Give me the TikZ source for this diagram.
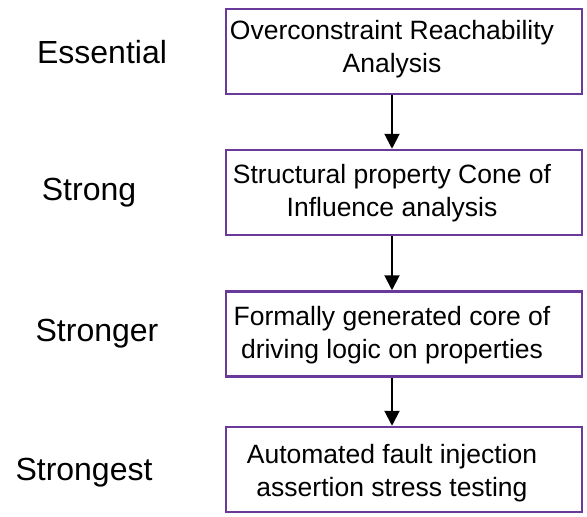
\documentclass[tikz,border=0pt]{standalone}
\usepackage{fontspec}
\setmainfont{Liberation Sans}
\usetikzlibrary{arrows.meta}
\definecolor{levelpurple}{HTML}{6A3A9A}
\begin{document}
\begin{tikzpicture}[x=1pt,y=-1pt]
\useasboundingbox (0,0) rectangle (587,517);
\begin{scope}
	\tikzstyle{levelbox}=[draw=levelpurple, line width=2.5pt, minimum width=356pt, minimum height=85pt, inner sep=0pt]
	\tikzstyle{boxtext}=[align=center, font=\fontsize{26.5}{33}\selectfont]
	\tikzstyle{levelname}=[font=\fontsize{32}{38}\selectfont]
	\node[levelbox] (b1) at (404, 51.5) {};
	\node[levelbox] (b2) at (404, 192.5) {};
	\node[levelbox] (b3) at (404, 334) {};
	\node[levelbox] (b4) at (404, 469.5) {};
	
	\node[boxtext] (t1) at (392, 49) {Overconstraint Reachability\\Analysis};
	\node[boxtext] (t2) at (392, 193) {Structural property Cone of\\Influence analysis};
	\node[boxtext] (t3) at (392, 335) {Formally generated core of\\driving logic on properties};
	\node[boxtext] (t4) at (392, 473) {Automated fault injection\\assertion stress testing};
	
	\node[levelname] (l1) at (102, 52) {Essential};
	\node[levelname] (l2) at (89, 193) {Strong};
	\node[levelname] (l3) at (97, 334) {Stronger};
	\node[levelname] (l4) at (84, 473) {Strongest};
	
	\draw [line width=2pt][-{Triangle[width=15pt,length=15pt]}] (t1 |- b1.south) -- (t1 |- b2.north);
	\draw [line width=2pt][-{Triangle[width=15pt,length=15pt]}] (t2 |- b2.south) -- (t2 |- b3.north);
	\draw [line width=2pt][-{Triangle[width=15pt,length=15pt]}] (t3 |- b3.south) -- (t3 |- b4.north);
\end{scope}
\end{tikzpicture}
\end{document}
